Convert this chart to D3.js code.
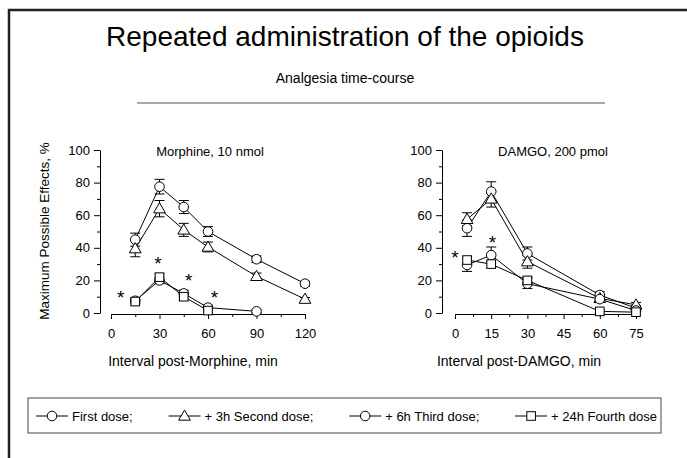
<!DOCTYPE html>
<html>
<head>
<meta charset="utf-8">
<script src="https://cdn.jsdelivr.net/npm/d3@7"></script>
<style>
body{margin:0;background:#fff;}
svg{display:block;font-family:"Liberation Sans",Arial,sans-serif;}
</style>
</head>
<body>
<svg id="chart" width="687" height="458"></svg>
<script>
// data
var morphTimes = [15, 30, 45, 60, 90, 120];
var morphFirst = [45, 77.5, 65, 50, 33, 18];
var morphFirstErr = [4, 4.5, 4, 3, 2, 1.5];
var morphSecond = [39.5, 64, 51, 40.5, 22.5, 8.5];
var morphSecondErr = [5, 5, 4, 3, 2, 1];
var morphThird = [7.5, 20, 12, 3.3, 1];
var morphThirdErr = [1.5, 2, 2, 1.5, 1];
var morphFourth = [7, 22, 10, 1.5];
var morphFourthErr = [1.5, 2, 2, 1.5];
var morphStars = [[6, 12], [29, 33], [48, 23], [64, 12]];

var damgoTimes = [5, 15, 30, 60, 75];
var damgoFirst = [52, 74.5, 36.5, 11, 3];
var damgoFirstErr = [5, 6, 4, 2, 1.5];
var damgoSecond = [57.5, 70, 31.5, 9, 5];
var damgoSecondErr = [4, 5, 4, 2, 1.5];
var damgoThird = [29.5, 35.5, 18, 8.5, 1.5];
var damgoThirdErr = [4, 5, 3, 2, 1];
var damgoFourth = [32.5, 30, 20, 1, 0.5];
var damgoFourthErr = [2, 2, 2, 1, 1];
var damgoStars = [[0, 37], [15.5, 46]];

var yTicks = [0, 20, 40, 60, 80, 100];
var morphXTicks = [0, 30, 60, 90, 120];
var damgoXTicks = [0, 15, 30, 45, 60, 75];
var legendLabels = ["First dose;", "+ 3h Second dose;", "+ 6h Third dose;", "+ 24h Fourth dose"];
var legendShapes = ["circle", "triangle", "circle", "square"];

var svg = d3.select("#chart");
var FONT = "Liberation Sans, Arial, sans-serif";

// outer frame, running off the right and bottom
svg.append("rect").attr("x", 9).attr("y", 10).attr("width", 700).attr("height", 470)
  .attr("fill", "none").attr("stroke", "#222").attr("stroke-width", 2.5);

svg.append("text").attr("x", 345).attr("y", 46).attr("text-anchor", "middle")
  .attr("font-size", 28).text("Repeated administration of the opioids");
svg.append("text").attr("x", 345).attr("y", 83).attr("text-anchor", "middle")
  .attr("font-size", 14).text("Analgesia time-course");
svg.append("line").attr("x1", 137).attr("x2", 605).attr("y1", 103).attr("y2", 103)
  .attr("stroke", "#555").attr("stroke-width", 1.2);

function drawMarker(g, shape, x, y) {
  if (shape == "circle") {
    g.append("circle").attr("cx", x).attr("cy", y).attr("r", 4.8)
      .attr("fill", "#fff").attr("stroke", "#000").attr("stroke-width", 1);
  } else if (shape == "triangle") {
    g.append("path").attr("d", d3.symbol().type(d3.symbolTriangle).size(60)())
      .attr("transform", "translate(" + x + "," + (y + 0.8) + ")")
      .attr("fill", "#fff").attr("stroke", "#000").attr("stroke-width", 1);
  } else {
    g.append("rect").attr("x", x - 4.3).attr("y", y - 4.3).attr("width", 8.6).attr("height", 8.6)
      .attr("fill", "#fff").attr("stroke", "#000").attr("stroke-width", 1);
  }
}

function panel(opt) {
  var g = svg.append("g");
  var x = d3.scaleLinear().domain(opt.xDomain).range(opt.xRange);
  var y = d3.scaleLinear().domain([0, 100]).range([313, 150]);

  // y axis with minor ticks
  var ya = g.append("g").attr("transform", "translate(" + opt.yAxisX + ",0)")
    .call(d3.axisLeft(y).tickValues(yTicks).tickSize(6).tickSizeOuter(0).tickPadding(4));
  ya.selectAll(".tick text").attr("font-size", 13).attr("font-family", FONT).attr("fill", "#000");
  g.append("g").attr("transform", "translate(" + opt.yAxisX + ",0)")
    .call(d3.axisLeft(y).tickValues([10, 30, 50, 70, 90]).tickSize(3).tickFormat(""))
    .select(".domain").remove();

  // x axis with minor ticks
  var xa = g.append("g").attr("transform", "translate(0,314)")
    .call(d3.axisBottom(x).tickValues(opt.xTicks).tickSize(5).tickSizeOuter(0).tickPadding(10));
  xa.selectAll(".tick text").attr("font-size", 13).attr("font-family", FONT).attr("fill", "#000");
  g.append("g").attr("transform", "translate(0,314)")
    .call(d3.axisBottom(x).tickValues(opt.minor).tickSize(3).tickFormat(""))
    .select(".domain").remove();
  g.selectAll(".domain, .tick line").attr("stroke", "#000");

  g.append("text").attr("x", opt.titleX).attr("y", 156).attr("text-anchor", "middle")
    .attr("font-size", 13).text(opt.title);
  g.append("text").attr("x", opt.xLabelX).attr("y", 366).attr("text-anchor", "middle")
    .attr("font-size", 14).text(opt.xLabel);

  var line = d3.line().x(function (d) { return x(d[0]); }).y(function (d) { return y(d[1]); });

  opt.series.forEach(function (s) {
    var pts = s.vals.map(function (v, i) { return [opt.times[i], v, s.err[i]]; });
    g.append("path").datum(pts).attr("d", line).attr("fill", "none")
      .attr("stroke", "#000").attr("stroke-width", 1);
  });
  opt.series.forEach(function (s) {
    s.vals.forEach(function (v, i) {
      var cx = x(opt.times[i]);
      var e = s.err[i];
      g.append("line").attr("x1", cx).attr("x2", cx).attr("y1", y(v - e)).attr("y2", y(v + e))
        .attr("stroke", "#000");
      [v - e, v + e].forEach(function (c) {
        g.append("line").attr("x1", cx - 5).attr("x2", cx + 5).attr("y1", y(c)).attr("y2", y(c))
          .attr("stroke", "#000");
      });
    });
  });
  opt.series.forEach(function (s) {
    s.vals.forEach(function (v, i) { drawMarker(g, s.shape, x(opt.times[i]), y(v)); });
  });

  opt.stars.forEach(function (st) {
    g.append("text").attr("x", x(st[0])).attr("y", y(st[1]) + 11).attr("text-anchor", "middle")
      .attr("font-size", 19).text("*");
  });
}

panel({
  xDomain: [0, 120], xRange: [111, 305], yAxisX: 100,
  xTicks: morphXTicks, minor: [15, 45, 75, 105],
  title: "Morphine, 10 nmol", titleX: 210,
  xLabel: "Interval post-Morphine, min", xLabelX: 193,
  times: morphTimes, stars: morphStars,
  series: [
    {vals: morphFirst, err: morphFirstErr, shape: "circle"},
    {vals: morphSecond, err: morphSecondErr, shape: "triangle"},
    {vals: morphThird, err: morphThirdErr, shape: "circle"},
    {vals: morphFourth, err: morphFourthErr, shape: "square"}
  ]
});

panel({
  xDomain: [0, 75], xRange: [455, 636], yAxisX: 442,
  xTicks: damgoXTicks, minor: [7.5, 22.5, 37.5, 52.5, 67.5],
  title: "DAMGO, 200 pmol", titleX: 553,
  xLabel: "Interval post-DAMGO, min", xLabelX: 519,
  times: damgoTimes, stars: damgoStars,
  series: [
    {vals: damgoFirst, err: damgoFirstErr, shape: "circle"},
    {vals: damgoSecond, err: damgoSecondErr, shape: "triangle"},
    {vals: damgoThird, err: damgoThirdErr, shape: "circle"},
    {vals: damgoFourth, err: damgoFourthErr, shape: "square"}
  ]
});

// y axis title
svg.append("text").attr("transform", "translate(49,231) rotate(-90)").attr("text-anchor", "middle")
  .attr("font-size", 13.5).text("Maximum Possible Effects, %");

// legend, spread across the box
var leg = svg.append("g");
var boxX0 = 28, boxX1 = 661;
leg.append("rect").attr("x", boxX0).attr("y", 398).attr("width", boxX1 - boxX0).attr("height", 35)
  .attr("fill", "#fff").attr("stroke", "#666").attr("stroke-width", 1.2);
var items = legendLabels.map(function (lab, i) {
  var ig = leg.append("g");
  ig.append("line").attr("x1", 0).attr("x2", 32).attr("y1", 416).attr("y2", 416).attr("stroke", "#000");
  drawMarker(ig, legendShapes[i], 16, 416);
  var t = ig.append("text").attr("x", 36).attr("y", 420.5).attr("font-size", 13).text(lab);
  return {g: ig, w: 36 + t.node().getComputedTextLength()};
});
var used = d3.sum(items, function (d) { return d.w; });
var gap = (boxX1 - boxX0 - 12 - used) / (items.length - 1);
var lx = boxX0 + 8;
items.forEach(function (it) {
  it.g.attr("transform", "translate(" + lx + ",0)");
  lx += it.w + gap;
});
</script>
</body>
</html>
